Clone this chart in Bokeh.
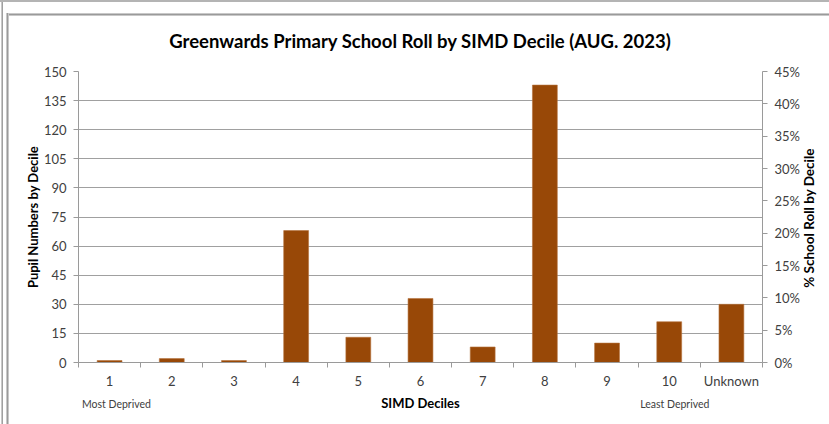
import math
from bokeh.plotting import figure
from bokeh.models import (Range1d, LinearAxis, FixedTicker, NumeralTickFormatter,
                          ColumnDataSource, Grid)
from bokeh.embed import file_html
from bokeh.resources import INLINE

categories = ["1", "2", "3", "4", "5", "6", "7", "8", "9", "10", "Unknown"]
pupils = [1, 2, 1, 68, 13, 33, 8, 143, 10, 21, 30]
left_ticks = [0, 15, 30, 45, 60, 75, 90, 105, 120, 135, 150]
right_ticks = [0, 0.05, 0.10, 0.15, 0.20, 0.25, 0.30, 0.35, 0.40, 0.45]
end_notes = {0.61: "Most Deprived", 9.59: "Least Deprived"}
right_title = {38.5: "% School Roll by Decile"}

FONT = "Lato"
TXT = "#404040"
AX = "#9a9a9a"

xpos = [i + 0.5 for i in range(len(categories))]
src = ColumnDataSource(dict(x=xpos, top=pupils))

p = figure(width=829, height=424, output_backend="svg", toolbar_location=None,
           x_range=Range1d(0, len(categories)), y_range=Range1d(0, 150),
           min_border_left=78, min_border_right=67, min_border_top=71, min_border_bottom=62,
           y_axis_location=None, x_axis_location=None)
p.outline_line_color = None
p.background_fill_color = "white"
p.border_fill_color = None
p.styles = {
    "background-color": "white",
    "background-image": ", ".join(["linear-gradient(#b4b4b4, #b4b4b4)"] +
                                  ["linear-gradient(90deg, #c8c8c8 0 1px, #a0a0a0 1px 2px)"] +
                                  ["linear-gradient(90deg, #c8c8c8 0 1px, #9a9a9a 1px 2px, #c8c8c8 2px 3px)"] +
                                  ["linear-gradient(#c8c8c8 0 1px, #9a9a9a 1px 2px, #c8c8c8 2px 3px)"]),
    "background-repeat": "no-repeat",
    "background-position": "0 0, 1px 0, 6px 13px, 6px 13px",
    "background-size": "100% 2px, 2px 100%, 3px 100%, 100% 3px",
}

p.title.text = "Greenwards Primary School Roll by SIMD Decile (AUG. 2023)"
p.title.align = "center"
p.title.text_font = FONT
p.title.text_font_size = "18.5px"
p.title.text_font_style = "bold"
p.title.text_color = "#000000"
p.title.offset = 0
p.title.standoff = 40

p.vbar(x="x", top="top", width=0.4, source=src, fill_color="#984807",
       line_color="#b5723d", line_width=0.6)

la = LinearAxis(ticker=FixedTicker(ticks=left_ticks))
la.axis_label = "Pupil Numbers by Decile"
p.add_layout(la, "left")

p.extra_y_ranges = {"pct": Range1d(0, 0.45)}
ra = LinearAxis(y_range_name="pct", ticker=FixedTicker(ticks=right_ticks),
                formatter=NumeralTickFormatter(format="0%"))
p.add_layout(ra, "right")

ba = LinearAxis(ticker=FixedTicker(ticks=xpos, minor_ticks=list(range(len(categories) + 1))))
ba.major_label_overrides = {x: c for x, c in zip(xpos, categories)}
ba.axis_label = "SIMD Deciles"
p.add_layout(ba, "below")

for ax in (la, ra, ba):
    ax.axis_line_color = AX
    ax.major_tick_line_color = AX
    ax.minor_tick_line_color = AX
    ax.major_label_text_font = FONT
    ax.major_label_text_font_size = "13px"
    ax.major_label_text_color = TXT
    ax.axis_label_text_font = FONT
    ax.axis_label_text_font_size = "13px"
    ax.axis_label_text_font_style = "bold"
    ax.axis_label_text_color = "#000000"
    ax.major_tick_in = 0
    ax.minor_tick_in = 0

la.major_tick_out = 5
la.minor_tick_out = 0
la.major_label_standoff = 7
la.axis_label_standoff = 0
ra.major_tick_out = 5
ra.minor_tick_out = 0
ra.major_label_standoff = 7
ba.major_tick_out = 0
ba.minor_tick_out = 5
ba.major_label_standoff = 5
ba.axis_label_standoff = 3

# right-hand axis title, reading bottom to top
ya = LinearAxis(ticker=FixedTicker(ticks=list(right_title.keys()), minor_ticks=[]))
ya.major_label_overrides = right_title
ya.major_label_orientation = math.pi / 2
ya.axis_line_color = None
ya.major_tick_line_color = None
ya.minor_tick_line_color = None
ya.major_tick_out = 0
ya.minor_tick_out = 0
ya.major_label_text_font = FONT
ya.major_label_text_font_size = "13.5px"
ya.major_label_text_font_style = "bold"
ya.major_label_text_color = "#000000"
ya.major_label_standoff = 7
p.add_layout(ya, "right")

na = LinearAxis(ticker=FixedTicker(ticks=list(end_notes.keys()), minor_ticks=[]))
na.major_label_overrides = end_notes
na.axis_line_color = None
na.major_tick_line_color = None
na.minor_tick_line_color = None
na.major_tick_out = 0
na.minor_tick_out = 0
na.major_label_text_font = FONT
na.major_label_text_font_size = "10.5px"
na.major_label_text_color = TXT
na.major_label_standoff = -16
p.add_layout(na, "below")

p.xgrid.visible = False
p.ygrid.visible = False
p.add_layout(Grid(dimension=1, ticker=la.ticker, grid_line_color="#a0a0a0", grid_line_width=1))

open("out.html", "w").write(file_html(p, INLINE))
